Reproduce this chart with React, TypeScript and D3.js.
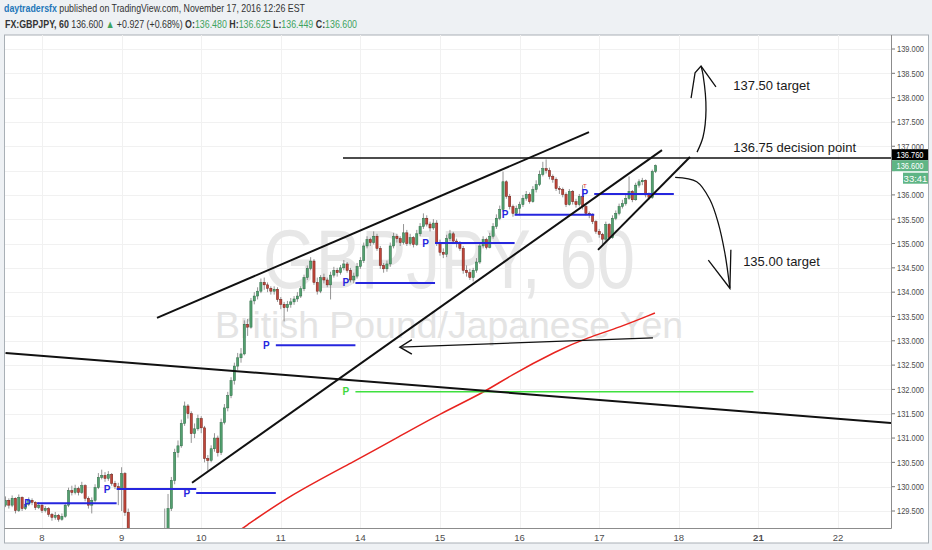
import * as d3 from "d3";

// ---- data ----
const firstOpen = 129.62;

const closes = [
  129.72, 129.62, 129.76, 129.51, 129.78, 129.55, 129.64, 129.72, 129.68, 129.57,
  129.62, 129.51, 129.55, 129.43, 129.37, 129.41, 129.33, 129.39, 129.62, 129.92,
  129.88, 129.96, 129.88, 130.02, 129.76, 129.62, 129.72, 129.98, 130.19, 130.23,
  130.17, 130.25, 130.07, 130.0, 129.96, 130.27, 129.47, 128.9, 128.4, 127.6,
  127.1, 127.4, 127.9, 128.3, 128.1, 128.6, 128.8, 128.7, 129.1, 129.55,
  130.13, 130.7, 130.84, 131.3, 131.66, 131.5, 131.09, 131.19, 131.4, 131.21,
  130.58, 130.54, 130.78, 131.0, 130.7, 131.32, 131.62, 131.87, 132.18, 132.48,
  132.65, 132.73, 133.34, 133.28, 133.82, 133.92, 134.02, 134.2, 134.15, 134.08,
  134.02, 134.06, 133.85, 133.75, 133.68, 133.75, 133.8, 133.86, 133.92, 134.07,
  134.3, 134.49, 134.64, 134.2, 134.02, 134.3, 134.25, 134.15, 134.35, 134.45,
  134.4, 134.5, 134.58, 134.45, 134.25, 134.33, 134.53, 134.65, 134.95, 135.08,
  135.02, 135.15, 134.9, 134.55, 134.48, 134.58, 134.95, 135.15, 135.1, 135.02,
  135.22, 135.0, 135.12, 134.98, 135.2, 135.35, 135.52, 135.4, 135.32, 135.42,
  135.02, 134.82, 134.78, 135.1, 135.2, 135.05, 135.0, 134.9, 134.45, 134.4,
  134.3, 134.45, 134.62, 134.95, 135.08, 134.92, 135.15, 135.35, 135.52, 135.7,
  136.27, 135.97, 135.76, 135.62, 135.72, 135.8, 135.93, 136.01, 135.86, 136.11,
  136.21, 136.42, 136.54, 136.5, 136.38, 136.32, 136.13, 136.11, 136.01, 135.8,
  136.07, 135.86, 135.8, 135.97, 135.76, 135.62, 135.6, 135.45, 135.25, 135.19,
  135.09, 135.39, 135.12, 135.52, 135.62, 135.76, 135.82, 135.93, 136.07, 135.9,
  136.2, 136.27, 136.3, 136.0, 135.95, 136.48, 136.6,
];

const highs = [
  129.8, 129.76, 129.82, 129.78, 129.84, 129.8, 129.7, 129.78, 129.76, 129.7,
  129.68, 129.64, 129.6, 129.58, 129.46, 129.48, 129.44, 129.45, 129.66, 129.98,
  130.02, 130.04, 130.0, 130.1, 130.05, 129.8, 129.78, 130.05, 130.28, 130.35,
  130.3, 130.32, 130.28, 130.12, 130.08, 130.4, 130.3, 129.55, 128.95, 128.5,
  127.8, 127.6, 128.1, 128.5, 128.45, 128.8, 129.0, 129.05, 129.55, 129.85,
  130.2, 130.78, 130.95, 131.38, 131.75, 131.7, 131.55, 131.3, 131.48, 131.45,
  131.25, 130.65, 130.85, 131.1, 131.05, 131.4, 131.7, 131.95, 132.25, 132.55,
  132.75, 132.85, 133.42, 133.45, 133.88, 134.0, 134.1, 134.28, 134.3, 134.2,
  134.12, 134.12, 134.1, 133.9, 133.8, 133.82, 133.88, 133.92, 134.0, 134.12,
  134.36, 134.55, 134.72, 134.68, 134.3, 134.35, 134.38, 134.3, 134.42, 134.52,
  134.5, 134.56, 134.66, 134.62, 134.5, 134.4, 134.6, 134.72, 135.02, 135.15,
  135.12, 135.25, 135.2, 134.95, 134.6, 134.65, 135.02, 135.22, 135.2, 135.15,
  135.4, 135.28, 135.2, 135.15, 135.28, 135.42, 135.62, 135.58, 135.45, 135.5,
  135.48, 135.08, 134.9, 135.18, 135.28, 135.24, 135.1, 135.05, 134.95, 134.55,
  134.48, 134.5, 134.7, 135.02, 135.15, 135.12, 135.22, 135.42, 135.6, 135.78,
  136.48, 136.3, 136.02, 135.8, 135.78, 135.86, 136.0, 136.08, 136.05, 136.18,
  136.3, 136.5, 136.68, 136.73, 136.56, 136.42, 136.36, 136.18, 136.15, 136.05,
  136.12, 136.1, 135.92, 136.02, 136.2, 135.8, 135.66, 135.62, 135.48, 135.3,
  135.22, 135.45, 135.42, 135.58, 135.68, 135.82, 135.9, 136.0, 136.38, 136.1,
  136.25, 136.32, 136.35, 136.32, 136.05, 136.52, 136.625,
];

const lows = [
  129.58, 129.55, 129.58, 129.45, 129.48, 129.5, 129.52, 129.6, 129.62, 129.52,
  129.54, 129.46, 129.47, 129.38, 129.3, 129.32, 129.28, 129.3, 129.36, 129.58,
  129.82, 129.84, 129.82, 129.85, 129.7, 129.55, 129.45, 129.68, 129.95, 130.15,
  130.1, 130.12, 130.02, 129.95, 129.62, 129.5, 129.4, 128.7, 128.1, 127.3,
  126.8, 126.9, 127.3, 127.8, 127.95, 128.0, 128.5, 128.55, 128.6, 129.0,
  129.5, 130.05, 130.6, 130.8, 131.25, 131.4, 130.9, 131.0, 131.15, 131.1,
  130.5, 130.33, 130.5, 130.72, 130.62, 130.65, 131.28, 131.55, 131.82, 132.1,
  132.4, 132.55, 132.7, 133.1, 133.25, 133.75, 133.85, 133.98, 134.05, 134.0,
  133.95, 133.95, 133.8, 133.65, 133.4, 133.6, 133.68, 133.74, 133.8, 133.88,
  134.02, 134.25, 134.45, 134.15, 133.95, 133.98, 134.18, 134.1, 133.85, 134.3,
  134.32, 134.36, 134.45, 134.4, 134.2, 134.18, 134.28, 134.48, 134.6, 134.9,
  134.95, 134.98, 134.85, 134.48, 134.4, 134.42, 134.52, 134.9, 135.02, 134.95,
  134.98, 134.95, 134.96, 134.92, 134.95, 135.15, 135.3, 135.35, 135.25, 135.28,
  134.95, 134.75, 134.7, 134.72, 135.05, 135.0, 134.92, 134.85, 134.38, 134.32,
  134.25, 134.22, 134.4, 134.58, 134.9, 134.88, 134.9, 135.1, 135.3, 135.48,
  135.65, 135.92, 135.7, 135.55, 135.58, 135.58, 135.75, 135.88, 135.82, 135.84,
  136.05, 136.18, 136.38, 136.44, 136.32, 136.25, 136.08, 136.02, 135.95, 135.75,
  135.78, 135.8, 135.74, 135.76, 135.7, 135.58, 135.52, 135.4, 135.2, 135.12,
  134.98, 135.05, 135.08, 135.1, 135.48, 135.58, 135.72, 135.78, 135.9, 135.85,
  135.88, 136.15, 136.2, 135.95, 135.9, 135.92, 136.449,
];

const dayLabels = ["8", "9", "10", "11", "14", "15", "16", "17", "18", "21", "22"];
const weekStartLabels = ["21"];
const firstMidnightBar = 11;
const barsPerDay = 24;
const lastBar = 267;

const priceTicks = [
  129.5, 130, 130.5, 131, 131.5, 132, 132.5, 133, 133.5, 134,
  134.5, 135, 135.5, 136, 136.5, 137, 137.5, 138, 138.5, 139,
];

// daily pivots (one per session) and the weekly pivot
const dailyPivots = [129.66, 129.95, 129.87, 132.91, 134.19, 135.01, 135.59, 136.02];
const pivotFirstStart = 9.5;
const weeklyPivot = { level: 131.95, start: 105.5, bars: 120 };

// moving average read at a few bars
const maBars = [66.2, 71.6, 85.8, 106, 118.9, 131, 144.6, 151.5, 166.6, 175.3, 185.3, 195.8];
const maVals = [128.9, 129.15, 129.83, 130.55, 131.04, 131.5, 131.95, 132.26, 132.81, 133.06, 133.28, 133.57];

// drawings: [bar1, price1, bar2, price2]
const channelUpper = [45.67, 133.47, 175.93, 137.29];
const channelLower = [56.23, 130.08, 197.93, 136.92];
const flagLower = [178.64, 134.87, 206.37, 136.78];
const longLine = [0, 132.75, 267, 131.31];
const leftArrow = [195.2, 133.06, 118.9, 132.87];
const decisionLevel = 136.76;
const decisionStart = 101.75;

const upShaft: [number, number][] = [[208.5, 136.88], [210.3, 137.19], [211.2, 137.75], [210.3, 138.47], [209.7, 138.65]];
const upHead: [number, number][] = [[206.7, 137.99], [207.9, 138.51], [209.7, 138.65], [214.2, 138.22]];
const downShaft: [number, number][] = [[201.9, 136.36], [208.4, 136.27], [212.4, 135.9], [214.9, 135.42], [216.9, 134.8], [218.4, 134.08]];
const downHead: [number, number][] = [[211.9, 134.66], [218.4, 134.08], [218.7, 134.87]];

const notes = [
  { text: "137.50 target", bar: 219.4, price: 138.26 },
  { text: "136.75 decision point", bar: 219.4, price: 136.97 },
  { text: "135.00 target", bar: 222.4, price: 134.63 },
];

const change = "+0.927 (+0.68%)";
const countdown = "33:41";

const W = 932;
const H = 550;
const PL = 5;
const PR = 891;
const PT = 35;
const PB = 528.5;

const UP = "#53a06f";
const UP_B = "#2d6b45";
const DN = "#c0463a";
const DN_B = "#6e1f17";
const PIV = "#2626de";
const NARROW = "'Liberation Sans Narrow', 'Arial Narrow', 'Liberation Sans', Arial, sans-serif";

export default function App() {
  const x = d3.scaleLinear().domain([0, lastBar]).range([5.52, 891.07]);
  const y = d3.scaleLinear().domain([129.5, 139]).range([511, 49]);
  const fmt = d3.format(".3f");

  const bars = closes.map((c, i) => {
    const o = i === 0 ? firstOpen : closes[i - 1];
    return { i, o, c, h: Math.max(highs[i], o, c), l: Math.min(lows[i], o, c) };
  });
  const last = bars[bars.length - 1];

  const line = d3.line<[number, number]>().x((d) => x(d[0])).y((d) => y(d[1]));
  const curve = d3.line<[number, number]>().x((d) => x(d[0])).y((d) => y(d[1])).curve(d3.curveCatmullRom);
  const maLine = d3
    .line<number>()
    .x((_, k) => x(maBars[k]))
    .y((v) => y(v))
    .curve(d3.curveBasis);

  const seg = (s: number[], w: number, key: string) => (
    <line key={key} x1={x(s[0])} y1={y(s[1])} x2={x(s[2])} y2={y(s[3])} stroke="#111" strokeWidth={w} />
  );

  const lastY = y(last.c);
  const decY = Math.min(y(decisionLevel), lastY - 11);
  const tipX = x(leftArrow[2]);
  const tipY = y(leftArrow[3]);
  // tick labels hidden behind the price badges
  const hidden = (p: number) => y(p) > decY - 8 && y(p) < lastY + 20;

  return (
    <svg width={W} height={H} style={{ position: "absolute", left: 0, top: 0, display: "block" }}>
      <rect width={W} height={H} fill="#eef1f4" />
      <rect x={4.5} y={35} width={924} height={508} fill="#fff" stroke="#a9b0b6" />

      {/* header */}
      <text x={4} y={12} fontFamily={NARROW} fontSize={11} fill="#333" textLength={301} lengthAdjust="spacingAndGlyphs">
        <tspan fill="#1f77b9" fontWeight="bold">daytradersfx</tspan>
        <tspan> published on TradingView.com, November 17, 2016 12:26 EST</tspan>
      </text>
      <text x={5} y={28} fontFamily={NARROW} fontSize={11} fill="#333" textLength={352} lengthAdjust="spacingAndGlyphs">
        <tspan fontWeight="bold">FX:GBPJPY, 60</tspan>
        <tspan> {fmt(last.c)} </tspan>
        <tspan fill="#3fa35f">▲</tspan>
        <tspan> {change} </tspan>
        <tspan fontWeight="bold">O:</tspan>
        <tspan fill="#3fa35f">{fmt(last.o)} </tspan>
        <tspan fontWeight="bold">H:</tspan>
        <tspan fill="#3fa35f">{fmt(last.h)} </tspan>
        <tspan fontWeight="bold">L:</tspan>
        <tspan fill="#3fa35f">{fmt(last.l)} </tspan>
        <tspan fontWeight="bold">C:</tspan>
        <tspan fill="#3fa35f">{fmt(last.c)}</tspan>
      </text>

      <defs>
        <clipPath id="plot">
          <rect x={PL} y={PT} width={PR - PL} height={PB - PT} />
        </clipPath>
      </defs>

      {/* grid */}
      <g stroke="#f1f1f1" strokeWidth={1}>
        {priceTicks.map((p) => (
          <line key={p} x1={PL} x2={PR} y1={Math.round(y(p)) + 0.5} y2={Math.round(y(p)) + 0.5} />
        ))}
        {dayLabels.map((d, k) => {
          const xx = Math.round(x(firstMidnightBar + k * barsPerDay)) + 0.5;
          return <line key={d} x1={xx} x2={xx} y1={PT} y2={PB} />;
        })}
      </g>

      <g clipPath="url(#plot)">
        {/* watermark */}
        <text x={449} y={288} textAnchor="middle" fontFamily="'Liberation Sans', Arial, sans-serif" fontSize={84} fill="#e7e7e7" textLength={372} lengthAdjust="spacingAndGlyphs">
          GBPJPY, 60
        </text>
        <text x={449} y={338} textAnchor="middle" fontFamily="'Liberation Sans', Arial, sans-serif" fontSize={37} fill="#e4e4e4" textLength={468} lengthAdjust="spacingAndGlyphs">
          British Pound/Japanese Yen
        </text>

        {/* moving average */}
        <path d={maLine(maVals) ?? ""} fill="none" stroke="#e8231f" strokeWidth={1.5} />

        {/* weekly pivot */}
        <line x1={x(weeklyPivot.start)} x2={x(weeklyPivot.start + weeklyPivot.bars)} y1={y(weeklyPivot.level)} y2={y(weeklyPivot.level)} stroke="#3fe03f" strokeWidth={1.5} />
        <text x={x(weeklyPivot.start) - 9.5} y={y(weeklyPivot.level) + 3.5} textAnchor="middle" fontFamily="Arial, sans-serif" fontWeight="bold" fontSize={10} fill="#3fd83f">P</text>

        {/* candles */}
        {bars.map((b) => {
          const up = b.c >= b.o;
          const cx = x(b.i);
          const top = y(Math.max(b.o, b.c));
          const bh = Math.max(1, y(Math.min(b.o, b.c)) - top);
          return (
            <g key={b.i}>
              <line x1={cx} x2={cx} y1={y(b.h)} y2={y(b.l)} stroke="#7a7a7a" strokeWidth={0.8} />
              <rect x={cx - 1.1} y={top} width={2.2} height={bh} fill={up ? UP : DN} stroke={up ? UP_B : DN_B} strokeWidth={0.5} />
            </g>
          );
        })}

        {/* daily pivots */}
        {dailyPivots.map((p, k) => {
          const s = pivotFirstStart + k * barsPerDay;
          return (
            <g key={k}>
              <line x1={x(s)} x2={x(s + barsPerDay)} y1={y(p)} y2={y(p)} stroke={PIV} strokeWidth={2} />
              <text x={x(s) - 9.5} y={y(p) + 3.5} textAnchor="middle" fontFamily="Arial, sans-serif" fontWeight="bold" fontSize={10} fill={PIV}>P</text>
            </g>
          );
        })}
        <text x={x(pivotFirstStart + 7 * barsPerDay) - 9.5} y={y(dailyPivots[7]) - 6} textAnchor="middle" fontFamily="Arial, sans-serif" fontSize={6} fill="#e03030">T</text>

        {/* trend lines */}
        {seg(channelUpper, 2, "cu")}
        {seg(channelLower, 2, "cl")}
        {seg(flagLower, 2, "fl")}
        {seg(longLine, 2, "ll")}
        <line x1={x(decisionStart)} x2={PR} y1={y(decisionLevel)} y2={y(decisionLevel)} stroke="#111" strokeWidth={1.4} />
        {seg(leftArrow, 1.4, "la")}
        <path d={`M${tipX + 12},${tipY - 7.5} L${tipX},${tipY} L${tipX + 12},${tipY + 7}`} fill="none" stroke="#111" strokeWidth={1.4} />

        {/* hand drawn arrows */}
        <path d={curve(upShaft) ?? ""} fill="none" stroke="#111" strokeWidth={1.3} />
        <path d={line(upHead) ?? ""} fill="none" stroke="#111" strokeWidth={1.3} />
        <path d={curve(downShaft) ?? ""} fill="none" stroke="#111" strokeWidth={1.3} />
        <path d={line(downHead) ?? ""} fill="none" stroke="#111" strokeWidth={1.3} />

        {notes.map((n) => (
          <text key={n.text} x={x(n.bar)} y={y(n.price)} dy="0.35em" fontFamily="'Liberation Sans', Arial, sans-serif" fontSize={13} fill="#1a1a1a">
            {n.text}
          </text>
        ))}
      </g>

      {/* axes frame */}
      <line x1={PR + 0.5} x2={PR + 0.5} y1={PT} y2={PB} stroke="#8c8c8c" />
      <line x1={PL - 0.5} x2={PR + 0.5} y1={PB} y2={PB} stroke="#8c8c8c" />

      {/* price axis */}
      {priceTicks.map((p) => (
        <g key={p}>
          <line x1={PR + 1} x2={PR + 4} y1={y(p)} y2={y(p)} stroke="#777" />
          {!hidden(p) && (
            <text x={897} y={y(p)} dy="0.35em" fontFamily={NARROW} fontSize={9.5} fill="#4d4d4d" textLength={27} lengthAdjust="spacingAndGlyphs">
              {fmt(p)}
            </text>
          )}
        </g>
      ))}
      <rect x={892} y={decY - 5.5} width={36} height={11} fill="#000" />
      <text x={910} y={decY} dy="0.35em" textAnchor="middle" fontFamily={NARROW} fontSize={9.5} fill="#fff" textLength={27} lengthAdjust="spacingAndGlyphs">
        {fmt(decisionLevel)}
      </text>
      <rect x={892} y={lastY - 5.5} width={36} height={11} fill="#5fb585" />
      <text x={910} y={lastY} dy="0.35em" textAnchor="middle" fontFamily={NARROW} fontSize={9.5} fill="#fff" textLength={27} lengthAdjust="spacingAndGlyphs">
        {fmt(last.c)}
      </text>
      <rect x={903} y={lastY + 7} width={25} height={11} fill="#5fb585" />
      <text x={915.5} y={lastY + 12.5} dy="0.35em" textAnchor="middle" fontFamily={NARROW} fontSize={9.5} fill="#fff">
        {countdown}
      </text>

      {/* time axis */}
      {dayLabels.map((d, k) => (
        <text
          key={d}
          x={x(firstMidnightBar + k * barsPerDay)}
          y={538}
          dy="0.35em"
          textAnchor="middle"
          fontFamily={NARROW}
          fontSize={9.5}
          fontWeight={weekStartLabels.includes(d) ? "bold" : "normal"}
          fill="#4d4d4d"
        >
          {d}
        </text>
      ))}
    </svg>
  );
}
